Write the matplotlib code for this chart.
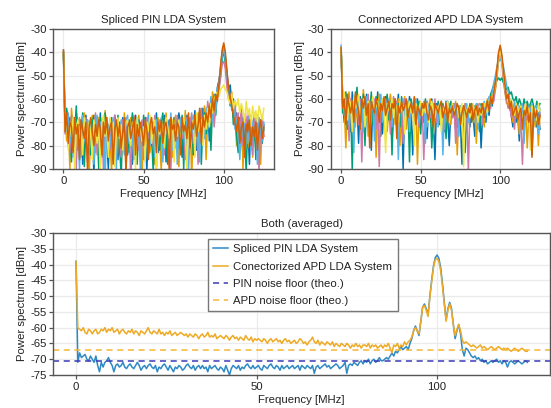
import numpy as np
import matplotlib
matplotlib.use("Agg")
import matplotlib.pyplot as plt

plt.rcParams["font.family"] = ["Liberation Sans", "DejaVu Sans"]

TEXT = "#222222"
SPINE = "#555555"
GRID = "#ebebeb"
WONG = ["#0072B2", "#E69F00", "#009E73", "#CC79A7", "#56B4E9", "#F0E442", "#D55E00"]

# ---- single-shot spectra, 1 MHz bins (dBm) ----
FREQ_TOP = np.arange(0, 126, 1.0)

PIN_SHOTS = [
    [-40, -72, -65, -80, -68, -75, -70, -84, -66, -73,
     -78, -69, -88, -71, -67, -76, -82, -70, -74, -92,
     -68, -73, -79, -66, -85, -72, -70, -77, -90, -69,
     -74, -81, -67, -72, -86, -70, -75, -68, -79, -73,
     -84, -69, -71, -88, -74, -67, -78, -72, -82, -70,
     -75, -68, -91, -73, -69, -80, -71, -76, -66, -83,
     -72, -70, -78, -67, -87, -73, -69, -75, -81, -68,
     -74, -79, -66, -71, -85, -69, -76, -67, -72, -80,
     -68, -74, -65, -82, -70, -66, -77, -64, -73, -69,
     -63, -78, -61, -67, -58, -64, -55, -52, -48, -41,
     -37, -42, -49, -56, -54, -62, -60, -70, -66, -78,
     -68, -73, -84, -67, -75, -70, -88, -69, -76, -72,
     -81, -67, -74, -70, -79, -71],
    [-40, -66, -78, -70, -90, -64, -73, -69, -81, -75,
     -68, -85, -72, -66, -79, -71, -93, -74, -67, -77,
     -83, -70, -68, -88, -73, -76, -65, -80, -71, -74,
     -92, -69, -77, -72, -68, -84, -71, -79, -66, -90,
     -73, -75, -68, -81, -70, -86, -72, -67, -76, -95,
     -69, -74, -79, -66, -83, -72, -70, -88, -75, -68,
     -77, -91, -70, -73, -66, -80, -74, -69, -85, -72,
     -67, -76, -89, -70, -73, -78, -65, -82, -71, -68,
     -94, -72, -69, -76, -66, -80, -70, -74, -63, -86,
     -68, -62, -71, -57, -66, -60, -59, -54, -46, -40,
     -38, -44, -51, -58, -61, -57, -68, -64, -80, -70,
     -75, -66, -90, -72, -69, -81, -74, -67, -85, -71,
     -77, -73, -68, -88, -70, -76],
    [-41, -70, -64, -76, -72, -87, -68, -74, -63, -82,
     -71, -77, -66, -89, -73, -69, -75, -84, -70, -67,
     -78, -72, -90, -68, -74, -81, -66, -73, -79, -70,
     -68, -86, -72, -75, -67, -80, -93, -71, -69, -76,
     -70, -83, -74, -66, -78, -72, -88, -69, -73, -80,
     -67, -75, -71, -84, -69, -77, -91, -72, -68, -74,
     -82, -70, -66, -79, -73, -88, -71, -68, -76, -83,
     -72, -69, -81, -75, -67, -90, -70, -74, -68, -78,
     -71, -84, -67, -73, -79, -65, -88, -70, -66, -75,
     -69, -64, -82, -62, -59, -67, -57, -55, -50, -43,
     -39, -45, -52, -57, -63, -59, -71, -67, -76, -83,
     -70, -78, -68, -74, -92, -69, -73, -80, -71, -67,
     -86, -72, -75, -69, -78, -73],
    [-40, -75, -68, -71, -83, -67, -79, -72, -90, -69,
     -74, -70, -81, -76, -68, -87, -72, -69, -78, -73,
     -66, -84, -71, -75, -69, -92, -73, -68, -77, -82,
     -70, -74, -67, -79, -71, -76, -85, -69, -73, -68,
     -78, -71, -95, -73, -67, -75, -70, -82, -74, -69,
     -86, -72, -68, -77, -71, -74, -80, -67, -89, -73,
     -69, -76, -71, -84, -68, -72, -78, -90, -70, -75,
     -81, -67, -73, -69, -77, -72, -86, -68, -74, -71,
     -66, -79, -73, -68, -88, -70, -64, -76, -69, -72,
     -61, -70, -66, -60, -72, -63, -58, -56, -51, -45,
     -44, -47, -55, -60, -58, -62, -64, -61, -72, -66,
     -74, -63, -80, -68, -71, -65, -77, -70, -84, -66,
     -73, -69, -91, -71, -67, -76],
    [-39, -69, -74, -66, -79, -71, -85, -68, -76, -72,
     -90, -70, -67, -78, -74, -69, -82, -71, -75, -88,
     -72, -67, -76, -70, -80, -73, -94, -69, -72, -76,
     -81, -68, -73, -90, -70, -75, -69, -77, -84, -71,
     -67, -79, -72, -76, -86, -70, -68, -74, -91, -72,
     -78, -69, -73, -67, -80, -75, -71, -85, -69, -76,
     -73, -68, -87, -72, -75, -70, -78, -66, -82, -74,
     -70, -88, -72, -68, -75, -71, -80, -69, -92, -73,
     -75, -67, -78, -71, -74, -87, -68, -72, -77, -64,
     -73, -67, -59, -70, -62, -65, -56, -53, -47, -42,
     -38, -43, -50, -55, -59, -65, -61, -73, -69, -74,
     -86, -71, -76, -69, -73, -79, -67, -82, -70, -75,
     -72, -88, -68, -74, -78, -70],
    [-40, -73, -67, -82, -70, -76, -68, -91, -72, -69,
     -77, -73, -84, -68, -72, -80, -70, -75, -86, -69,
     -74, -79, -71, -93, -70, -67, -76, -72, -85, -68,
     -73, -70, -89, -74, -68, -77, -71, -82, -75, -70,
     -69, -76, -80, -70, -73, -90, -68, -75, -71, -78,
     -72, -87, -70, -74, -67, -79, -72, -69, -95, -71,
     -75, -70, -74, -81, -68, -72, -77, -71, -69, -87,
     -73, -76, -69, -80, -72, -68, -74, -90, -70, -75,
     -72, -69, -85, -66, -74, -71, -69, -80, -67, -73,
     -64, -72, -62, -66, -60, -58, -57, -59, -56, -55,
     -54, -56, -57, -60, -62, -58, -64, -61, -63, -60,
     -66, -62, -65, -70, -61, -67, -64, -72, -63, -68,
     -65, -70, -63, -66, -69, -64],
    [-39, -74, -66, -79, -70, -72, -83, -68, -75, -71,
     -86, -69, -73, -77, -70, -90, -72, -68, -74, -80,
     -71, -76, -69, -73, -84, -70, -75, -68, -78, -72,
     -70, -88, -73, -69, -76, -71, -81, -74, -68, -92,
     -72, -70, -77, -73, -68, -84, -71, -76, -70, -74,
     -80, -69, -73, -86, -71, -68, -75, -72, -83, -70,
     -74, -69, -79, -72, -70, -76, -91, -68, -73, -71,
     -78, -70, -72, -84, -68, -74, -71, -77, -66, -81,
     -70, -73, -67, -76, -71, -64, -79, -68, -72, -66,
     -70, -63, -68, -60, -65, -58, -61, -54, -46, -39,
     -36, -40, -48, -55, -59, -63, -67, -70, -74, -68,
     -79, -72, -70, -85, -71, -74, -69, -80, -72, -76,
     -70, -82, -73, -69, -77, -72],
]

APD_SHOTS = [
    [-38, -62, -70, -58, -66, -60, -74, -57, -64, -68,
     -61, -79, -59, -65, -63, -71, -58, -67, -62, -82,
     -60, -64, -69, -57, -66, -61, -75, -63, -59, -70,
     -64, -62, -78, -60, -67, -65, -58, -73, -63, -90,
     -61, -66, -69, -59, -64, -84, -62, -68, -60, -72,
     -65, -63, -70, -61, -77, -64, -67, -60, -69, -86,
     -62, -66, -71, -63, -65, -74, -61, -68, -80, -64,
     -66, -62, -73, -67, -64, -70, -88, -63, -66, -69,
     -65, -72, -62, -67, -76, -64, -69, -63, -81, -66,
     -64, -70, -62, -67, -60, -63, -57, -55, -48, -41,
     -38, -42, -49, -56, -58, -63, -61, -67, -72, -64,
     -70, -66, -78, -63, -68, -74, -65, -62, -71, -69,
     -84, -64, -67, -72, -66, -73],
    [-39, -59, -64, -81, -61, -57, -68, -63, -60, -72,
     -58, -65, -62, -70, -56, -66, -60, -76, -63, -59,
     -67, -61, -85, -64, -58, -66, -62, -69, -60, -74,
     -63, -58, -65, -61, -71, -64, -60, -80, -62, -66,
     -59, -73, -65, -61, -67, -63, -70, -60, -88, -64,
     -62, -68, -61, -65, -72, -63, -60, -67, -75, -62,
     -66, -64, -69, -61, -78, -65, -63, -67, -62, -71,
     -64, -68, -61, -84, -66, -63, -70, -65, -62, -74,
     -67, -64, -66, -70, -63, -79, -65, -62, -68, -66,
     -72, -63, -60, -65, -58, -62, -59, -56, -51, -43,
     -39, -44, -52, -57, -62, -60, -65, -63, -70, -62,
     -68, -65, -75, -63, -66, -70, -64, -81, -67, -63,
     -69, -66, -72, -64, -80, -67],
    [-38, -66, -61, -57, -73, -60, -64, -90, -59, -63,
     -55, -68, -61, -65, -58, -80, -62, -60, -66, -57,
     -71, -63, -59, -64, -61, -76, -60, -65, -62, -58,
     -69, -61, -84, -63, -60, -66, -62, -72, -59, -64,
     -61, -67, -63, -87, -60, -65, -62, -68, -64, -61,
     -75, -63, -66, -60, -69, -64, -62, -81, -65, -63,
     -67, -61, -70, -64, -62, -66, -77, -63, -65, -61,
     -68, -64, -62, -72, -65, -63, -69, -66, -83, -64,
     -66, -62, -70, -65, -63, -67, -64, -74, -62, -66,
     -63, -68, -61, -64, -58, -56, -54, -53, -52, -51,
     -52, -51, -53, -54, -56, -55, -58, -57, -60, -61,
     -59, -63, -60, -62, -65, -60, -63, -61, -64, -62,
     -60, -63, -66, -61, -64, -62],
    [-39, -63, -58, -69, -62, -78, -60, -65, -67, -59,
     -64, -71, -60, -87, -63, -61, -66, -58, -70, -62,
     -65, -60, -73, -63, -89, -61, -64, -67, -60, -66,
     -62, -75, -63, -59, -65, -61, -68, -62, -64, -79,
     -60, -63, -66, -70, -62, -64, -61, -67, -63, -72,
     -65, -62, -86, -64, -61, -66, -68, -63, -65, -60,
     -70, -64, -62, -67, -63, -73, -65, -61, -66, -64,
     -68, -62, -79, -65, -63, -67, -64, -70, -62, -66,
     -91, -64, -67, -63, -65, -69, -62, -66, -64, -71,
     -63, -66, -62, -60, -64, -58, -61, -55, -49, -43,
     -40, -44, -50, -57, -60, -64, -62, -68, -65, -73,
     -63, -67, -64, -70, -88, -65, -62, -69, -66, -64,
     -72, -65, -68, -63, -70, -66],
    [-37, -60, -67, -62, -59, -71, -64, -61, -83, -58,
     -66, -62, -64, -60, -74, -63, -59, -68, -61, -65,
     -62, -78, -60, -66, -63, -58, -70, -64, -61, -67,
     -60, -63, -72, -65, -61, -64, -86, -62, -66, -60,
     -68, -63, -61, -74, -65, -62, -67, -60, -64, -70,
     -62, -66, -63, -79, -61, -65, -64, -68, -62, -66,
     -63, -72, -65, -62, -84, -64, -66, -61, -69, -63,
     -65, -67, -62, -64, -76, -63, -66, -68, -64, -62,
     -70, -65, -63, -67, -64, -62, -73, -66, -63, -65,
     -61, -67, -62, -59, -63, -57, -53, -50, -46, -44,
     -43, -44, -46, -50, -54, -57, -60, -62, -66, -61,
     -64, -68, -63, -65, -62, -79, -64, -66, -63, -67,
     -62, -70, -65, -63, -75, -64],
    [-38, -61, -57, -65, -69, -60, -62, -74, -59, -64,
     -62, -58, -67, -63, -60, -72, -65, -61, -78, -62,
     -59, -65, -63, -61, -68, -64, -60, -66, -83, -62,
     -65, -63, -60, -68, -62, -64, -70, -61, -65, -63,
     -75, -62, -64, -61, -66, -63, -80, -62, -65, -64,
     -61, -67, -63, -66, -62, -70, -64, -61, -65, -68,
     -63, -65, -62, -74, -64, -66, -63, -61, -70, -65,
     -62, -66, -64, -63, -68, -65, -62, -89, -64, -66,
     -63, -68, -65, -62, -66, -64, -70, -63, -67, -65,
     -62, -64, -66, -61, -59, -60, -57, -54, -48, -42,
     -39, -43, -48, -55, -59, -61, -63, -60, -65, -67,
     -62, -64, -66, -63, -71, -65, -62, -67, -64, -82,
     -63, -66, -64, -69, -62, -65],
    [-38, -64, -60, -71, -58, -63, -66, -61, -70, -57,
     -62, -65, -73, -60, -64, -59, -67, -62, -81, -61,
     -64, -66, -60, -63, -70, -62, -65, -59, -67, -64,
     -61, -69, -62, -64, -60, -77, -63, -66, -61, -65,
     -63, -60, -68, -64, -62, -66, -59, -71, -63, -65,
     -67, -62, -64, -61, -66, -69, -63, -65, -72, -62,
     -64, -66, -63, -61, -68, -65, -62, -70, -64, -66,
     -63, -67, -65, -62, -64, -71, -66, -63, -65, -68,
     -64, -66, -62, -69, -65, -63, -67, -64, -66, -62,
     -68, -64, -61, -65, -59, -62, -57, -53, -47, -40,
     -37, -41, -47, -54, -60, -58, -64, -61, -67, -65,
     -63, -69, -66, -64, -73, -65, -67, -63, -70, -66,
     -85, -64, -68, -65, -71, -67],
]

# ---- averaged spectra, 0.5 MHz bins (dBm) ----
FREQ_AVG = np.arange(0, 125.5, 0.5)

PIN_AVG = [
    -39, -71, -68, -69.5, -69, -68.5, -70, -70.5, -69, -70,
    -71, -69, -72, -74, -71, -72.5, -71, -70.5, -69.5, -71,
    -72, -74, -72, -71.5, -72.5, -72, -71, -72.5, -73, -72,
    -71.5, -72.5, -73, -72, -71, -72, -73.5, -72.5, -72, -73,
    -72, -71.5, -72.5, -73, -72, -74, -72.5, -73, -72, -71.5,
    -72.5, -73.5, -72, -73, -74, -72.5, -73, -72, -72.5, -73.5,
    -73, -72, -71.5, -72.5, -73, -72, -73.5, -72.5, -72, -73,
    -72, -73, -72.5, -74, -72, -73, -72.5, -72, -73, -73.5,
    -72.5, -73, -74, -72, -73.5, -75, -73, -72, -72.5, -73,
    -72, -73.5, -72.5, -73, -72, -71.5, -72.5, -73, -72, -73,
    -72.5, -72, -73, -73.5, -72, -72.5, -73, -72, -71.5, -72.5,
    -73, -72, -72.5, -73.5, -72, -73, -72.5, -72, -73, -72.5,
    -72, -73, -72.5, -72, -73.5, -72, -72.5, -73, -72, -72.5,
    -73, -72, -74.5, -72.5, -72, -73, -72.5, -72, -71.5, -72.5,
    -72, -73, -72.5, -72, -71.5, -72, -73, -72.5, -72, -71,
    -74.5, -72, -71.5, -72, -71, -71.5, -72, -71, -70.5, -71.5,
    -70.5, -71, -70, -71.5, -70.5, -70, -71, -70.5, -69.5, -70.5,
    -70.5, -70, -69.5, -70, -69, -68, -69, -67.5, -68, -67,
    -66, -67, -66.5, -66, -67, -65, -63.5, -61, -59.5, -61,
    -62.5, -58, -53.5, -52.5, -54, -56, -50, -45, -40.5, -37.8,
    -37, -38, -41, -46, -52, -57.5, -54, -52, -54, -59,
    -63.5, -61, -59, -62, -67, -69, -66.5, -67, -68, -69,
    -69.5, -69, -70, -69.5, -70.5, -70, -71, -70.5, -71.5, -71,
    -70.5, -71, -70.5, -70, -71, -70.5, -71.5, -70.5, -71, -72.5,
    -71, -70.5, -71, -71.5, -71, -70.5, -71, -71.5, -71, -70.5,
    -71,
]

APD_AVG = [
    -39, -60, -60.5, -61, -60, -61.5, -62, -60.5, -61, -62,
    -61, -60.5, -62, -61.5, -60.5, -61, -60, -61.5, -60.5, -61,
    -60, -61.5, -61, -60.5, -62, -61, -60.5, -61.5, -62, -61,
    -61.5, -60.5, -62, -61, -61.5, -62.5, -61, -61.5, -62, -61,
    -60, -61.5, -62, -61, -61.5, -62, -60.5, -62, -61.5, -62.5,
    -61.5, -62, -61, -62.5, -62, -61.5, -62.5, -62, -61.5, -62,
    -62.5, -62, -63, -62, -62.5, -63, -62, -62.5, -63.5, -62.5,
    -62, -63, -62.5, -61.5, -63, -62.5, -63, -62, -63.5, -63,
    -62.5, -63, -63.5, -62.5, -63, -64, -63, -62.5, -63.5, -63,
    -64, -63, -63.5, -64, -62.5, -63.5, -64, -63, -64.5, -63.5,
    -64, -63.5, -64, -64.5, -63.5, -64, -65, -64, -63.5, -64.5,
    -64, -63.5, -64.5, -64, -65, -64, -63.5, -64.5, -64, -65,
    -64.5, -64, -65, -64.5, -63.5, -64, -65, -64.5, -65.5, -64.5,
    -64, -63, -64.5, -65, -64, -65.5, -64.5, -65, -65.5, -64.5,
    -65, -65.5, -64.5, -66, -65, -65.5, -66, -65, -65.5, -66,
    -65, -65.5, -66.5, -65.5, -66, -65, -66, -65.5, -66.5, -65.5,
    -65.5, -66, -65, -66.5, -65.5, -66, -65.5, -66.5, -66, -65.5,
    -66.5, -65.5, -66, -65, -66.5, -68, -65.5, -66, -65, -66.5,
    -65.5, -66, -64.5, -65.5, -64.5, -64, -63, -61, -60, -61,
    -62, -58, -53.5, -53, -54.5, -56.5, -50.5, -45.5, -41, -38.5,
    -38, -39, -42, -47, -52.5, -58, -54.5, -52.5, -54.5, -59,
    -62.5, -60.5, -59, -61, -64, -65, -64.5, -65, -65.5, -66,
    -65.5, -66, -66.5, -66, -65.5, -66.5, -66, -66.5, -67, -66.5,
    -66, -66.5, -67, -66.5, -66, -66.5, -67, -66.5, -67, -66.5,
    -67, -67.5, -67, -66.5, -67, -67.5, -67, -66.5, -67, -67.5,
    -67.5,
]

PIN_FLOOR = -70.5
APD_FLOOR = -67.2

XLIM = (-6.25, 131.25)
FS = 8.2


def _style(ax, ylim, yticks):
    ax.set_xlim(*XLIM)
    ax.set_ylim(*ylim)
    ax.set_xticks([0, 50, 100])
    ax.set_yticks(yticks)
    ax.set_yticklabels([f"{t:d}" for t in yticks])
    ax.grid(True, color=GRID, linewidth=0.9)
    ax.set_axisbelow(True)
    for s in ax.spines.values():
        s.set_edgecolor(SPINE)
        s.set_linewidth(1.0)
    ax.tick_params(colors=SPINE, labelcolor=TEXT, labelsize=FS,
                   length=3, width=0.9, pad=2)
    ax.set_xlabel("Frequency [MHz]", fontsize=FS, color=TEXT, labelpad=2)
    ax.set_ylabel("Power spectrum [dBm]", fontsize=FS, color=TEXT, labelpad=2)


fig = plt.figure(figsize=(5.51, 4.08), dpi=100, facecolor="white")
ax1 = fig.add_axes([0.097, 0.586, 0.400, 0.343])
ax2 = fig.add_axes([0.601, 0.586, 0.397, 0.343])
ax3 = fig.add_axes([0.097, 0.081, 0.901, 0.348])

# ── single shots ─────────────────────────────────────────────────────
for ax, shots, title in [(ax1, PIN_SHOTS, "Spliced PIN LDA System"),
                         (ax2, APD_SHOTS, "Connectorized APD LDA System")]:
    for i, v in enumerate(shots):
        ax.plot(FREQ_TOP[:len(v)], v, color=WONG[i % len(WONG)], lw=1.1)
    _style(ax, (-90, -30), list(range(-90, -29, 10)))
    ax.set_title(title, fontsize=FS, color=TEXT, pad=4)

# ── averaged comparison ──────────────────────────────────────────────
ax3.plot(FREQ_AVG, PIN_AVG, color="#2f8ac4", lw=1.1, label="Spliced PIN LDA System")
ax3.plot(FREQ_AVG, APD_AVG, color="#eeaa25", lw=1.1, label="Conectorized APD LDA System")
ax3.axhline(PIN_FLOOR, color="#3a3ab8", lw=1.1, ls=(0, (4, 3)), label="PIN noise floor (theo.)")
ax3.axhline(APD_FLOOR, color="#f7b733", lw=1.1, ls=(0, (4, 3)), label="APD noise floor (theo.)")
_style(ax3, (-75, -30), list(range(-75, -29, 5)))
ax3.set_title("Both (averaged)", fontsize=FS, color=TEXT, pad=4)
leg = ax3.legend(loc="upper left", bbox_to_anchor=(0.312, 0.955), borderaxespad=0,
                 fontsize=FS, frameon=True, fancybox=False, edgecolor=SPINE,
                 handlelength=1.3, handletextpad=0.45, borderpad=0.45,
                 labelspacing=0.62)
leg.get_frame().set_linewidth(1.0)
for t in leg.get_texts():
    t.set_color(TEXT)

fig.savefig("out.png", dpi=100, facecolor="white")
